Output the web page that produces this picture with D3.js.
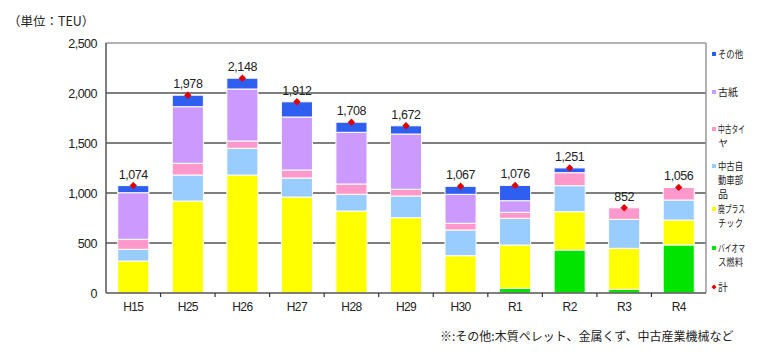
<!DOCTYPE html>
<html><head><meta charset="utf-8">
<script src="https://cdn.jsdelivr.net/npm/d3@7"></script>
<style>
body{margin:0;background:#fff;}
svg{display:block;}
text{font-family:"Liberation Sans","Noto Sans CJK JP",sans-serif;fill:#222;}
.jp{font-family:"Noto Sans CJK JP",sans-serif;}
</style></head><body>
<svg id="c" width="760" height="360"></svg>
<script>
const categories = ["H15","H25","H26","H27","H28","H29","H30","R1","R2","R3","R4"];
const biomass   = [0,0,0,0,0,0,0,47,430,37,480];
const plastic   = [320,920,1180,960,820,753,373,433,383,410,250];
const autoParts = [117,260,267,190,167,217,257,267,260,290,200];
const tires     = [100,117,73,80,103,67,67,60,130,115,126];
const paper     = [466,566,520,530,517,553,290,116,0,0,0];
const other     = [71,115,108,152,101,82,80,153,48,0,0];
const totals    = [1074,1978,2148,1912,1708,1672,1067,1076,1251,852,1056];
const yTicks    = [0,500,1000,1500,2000,2500];
const seriesNames = ["バイオマス燃料","廃プラスチック","中古自動車部品","中古タイヤ","古紙","その他"];
const seriesColors = ["#00e400","#ffff00","#99ccff","#ff99cc","#cc99ff","#2f5ff0"];
const legendLines = [["その他"],["古紙"],["中古タイ","ヤ"],["中古自","動車部","品"],["廃プラス","チック"],["バイオマ","ス燃料"],["計"]];
const legendColors = ["#2f5ff0","#cc99ff","#ff99cc","#99ccff","#ffff00","#00e400","#e00000"];

const svg = d3.select("#c");
const x = d3.scaleBand().domain(categories).range([106,706]).paddingInner(0.43).paddingOuter(0.215);
const y = d3.scaleLinear().domain([0,2500]).range([293,43]);

// unit
svg.append("text").attr("class","jp").attr("x",8).attr("y",26).attr("font-size",12.5).text("（単位：TEU）");

// grid
svg.append("g").selectAll("line").data(yTicks.filter(d=>d>0)).join("line")
  .attr("x1",106).attr("x2",706).attr("y1",d=>y(d)).attr("y2",d=>y(d))
  .attr("stroke",d=>d===2500?"#999":"#555").attr("stroke-width",1.5);
// right border
svg.append("line").attr("x1",706).attr("x2",706).attr("y1",y(2500)).attr("y2",y(0)).attr("stroke","#999").attr("stroke-width",1.5);

// y labels
svg.append("g").selectAll("text").data(yTicks).join("text")
  .attr("x",97).attr("y",d=>y(d)+4.5).attr("text-anchor","end").attr("font-size",12.5)
  .attr("letter-spacing",-0.5).text(d=>d3.format(",")(d));

// stacks
const rows = categories.map((c,i)=>({cat:c,s0:biomass[i],s1:plastic[i],s2:autoParts[i],s3:tires[i],s4:paper[i],s5:other[i]}));
const stack = d3.stack().keys(["s0","s1","s2","s3","s4","s5"])(rows);
svg.append("g").selectAll("g").data(stack).join("g").attr("fill",(d,i)=>seriesColors[i])
  .selectAll("rect").data(d=>d.filter(p=>p[1]-p[0]>0)).join("rect")
  .attr("x",d=>x(d.data.cat)).attr("width",x.bandwidth())
  .attr("y",d=>y(d[1])).attr("height",d=>y(d[0])-y(d[1]))
  .attr("stroke","#fff").attr("stroke-width",1);

// axes lines
svg.append("line").attr("x1",106).attr("x2",106).attr("y1",y(2500)).attr("y2",y(0)).attr("stroke","#555").attr("stroke-width",1.5);
svg.append("line").attr("x1",106).attr("x2",706).attr("y1",y(0)).attr("y2",y(0)).attr("stroke","#555").attr("stroke-width",1.5);
const step = x.step();
svg.append("g").selectAll("line").data(categories.slice(1)).join("line")
  .attr("x1",d=>x(d)-(step-x.bandwidth())/2).attr("x2",d=>x(d)-(step-x.bandwidth())/2)
  .attr("y1",y(0)).attr("y2",y(0)+4).attr("stroke","#333").attr("stroke-width",1.2);

// x labels
svg.append("g").selectAll("text").data(categories).join("text")
  .attr("x",d=>x(d)+x.bandwidth()/2).attr("y",311).attr("text-anchor","middle").attr("font-size",12)
  .attr("letter-spacing",-0.6).text(d=>d);

// totals
svg.append("g").selectAll("rect").data(categories).join("rect")
  .attr("x",-2.6).attr("y",-2.6).attr("width",5.2).attr("height",5.2).attr("fill","#e00000")
  .attr("transform",(d,i)=>`translate(${x(d)+x.bandwidth()/2},${y(totals[i])}) rotate(45)`);
svg.append("g").selectAll("text").data(categories).join("text")
  .attr("x",d=>x(d)+x.bandwidth()/2).attr("y",(d,i)=>y(totals[i])-7).attr("text-anchor","middle")
  .attr("font-size",12.5).attr("letter-spacing",-0.4).text((d,i)=>d3.format(",")(totals[i]));

// legend
const legY = [54,92,129,166,209,248,287];
const lg = svg.append("g");
legendLines.forEach((lines,i)=>{
  if(i<6) lg.append("rect").attr("x",712).attr("y",legY[i]-2).attr("width",4).attr("height",4).attr("fill",legendColors[i]);
  else lg.append("rect").attr("x",-1.8).attr("y",-1.8).attr("width",3.6).attr("height",3.6).attr("fill",legendColors[i]).attr("transform",`translate(714,${legY[i]}) rotate(45)`);
  lines.forEach((t,j)=>{
    const n = t.length;
    const tx = lg.append("text").attr("class","jp").attr("x",718).attr("y",legY[i]+4+j*14).attr("font-size",10).text(t);
    if(n>=3) tx.attr("textLength", n===3?25:27).attr("lengthAdjust","spacingAndGlyphs");
  });
});

// footnote
svg.append("text").attr("class","jp").attr("x",440).attr("y",341).attr("font-size",12).text("※:その他:木質ペレット、金属くず、中古産業機械など");
</script>
</body></html>
